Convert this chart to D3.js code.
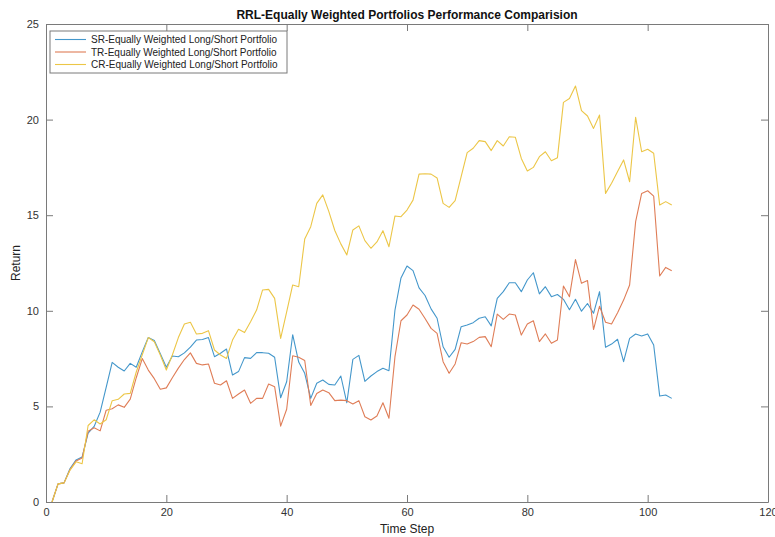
<!DOCTYPE html>
<html>
<head>
<meta charset="utf-8">
<script src="https://cdn.jsdelivr.net/npm/d3@7"></script>
<style>
  html, body { margin: 0; padding: 0; background: #fff; }
  svg { display: block; font-family: "Liberation Sans", Arial, Helvetica, sans-serif; }
</style>
</head>
<body>
<svg id="chart" width="775" height="537"></svg>
<script>
// Cumulative returns of the three equally weighted long/short portfolios, steps 1..104
const srReturns = [
  0, 0.95, 1.0, 1.75, 2.2, 2.35, 3.6, 3.95, 4.7, 6.0,
  7.3, 7.05, 6.85, 7.25, 7.05, 7.85, 8.6, 8.45, 7.75, 7.05,
  7.64, 7.6, 7.8, 8.1, 8.47, 8.5, 8.6, 7.6, 7.78, 8.0,
  6.64, 6.82, 7.55, 7.51, 7.81, 7.81, 7.78, 7.57, 5.45, 6.29,
  8.75, 7.32, 6.73, 5.42, 6.21, 6.38, 6.15, 6.12, 6.59, 5.19,
  7.46, 7.67, 6.31, 6.59, 6.82, 6.99, 6.87, 10.04, 11.72, 12.34,
  12.1, 11.2, 10.8, 10.1, 9.61, 8.12, 7.57, 7.98, 9.17, 9.26,
  9.38, 9.61, 9.69, 9.21, 10.65, 11.0, 11.47, 11.47, 11.0, 11.61,
  11.99, 10.88, 11.26, 10.74, 10.85, 10.6, 10.06, 10.6, 9.98, 10.38,
  9.87, 11.0, 8.09, 8.26, 8.51, 7.34, 8.56, 8.79, 8.68, 8.79,
  8.21, 5.54, 5.6, 5.42
];
const trReturns = [
  0, 0.95, 1.0, 1.7, 2.15, 2.3, 3.7, 3.88, 3.72, 4.8,
  4.88, 5.08, 4.95, 5.38, 6.5, 7.5, 6.9, 6.45, 5.9, 5.97,
  6.5, 7.0, 7.45, 7.8, 7.25, 7.17, 7.22, 6.21, 6.12, 6.34,
  5.42, 5.65, 5.86, 5.16, 5.42, 5.42, 6.17, 6.03, 3.97, 4.85,
  7.65, 7.57, 7.4, 5.05, 5.67, 5.86, 5.72, 5.3, 5.33, 5.3,
  5.13, 5.3, 4.46, 4.29, 4.5, 5.19, 4.38, 7.6, 9.48, 9.78,
  10.3, 10.08, 9.6, 9.08, 8.82, 7.34, 6.73, 7.22, 8.33, 8.26,
  8.39, 8.61, 8.65, 8.12, 9.83, 9.55, 9.83, 9.78, 8.73, 9.31,
  9.48, 8.39, 8.79, 8.3, 8.47, 11.3, 10.74, 12.68, 11.44, 11.58,
  9.02, 10.24, 9.4, 9.31, 9.9, 10.56, 11.35, 14.66, 16.14, 16.28,
  16.0, 11.82, 12.27, 12.1
];
const crReturns = [
  0, 0.95, 1.0, 1.67, 2.1, 2.0, 4.0, 4.3, 4.08, 4.3,
  5.3, 5.37, 5.65, 5.68, 6.8, 7.7, 8.6, 8.38, 7.69, 6.9,
  7.69, 8.6, 9.31, 9.4, 8.79, 8.82, 8.96, 7.95, 7.69, 7.51,
  8.47, 9.03, 8.86, 9.43, 10.04, 11.09, 11.12, 10.65, 8.56, 9.95,
  11.35, 11.26, 13.75, 14.4, 15.62, 16.06, 15.2, 14.2, 13.5, 12.92,
  14.23, 14.44, 13.67, 13.27, 13.6, 14.19, 13.35, 14.96, 14.92, 15.27,
  15.79, 17.15, 17.17, 17.15, 16.95, 15.62, 15.41, 15.76, 17.02, 18.27,
  18.5, 18.9, 18.85, 18.38, 18.9, 18.62, 19.1, 19.08, 17.97, 17.31,
  17.5, 18.06, 18.32, 17.85, 18.0, 20.9, 21.1, 21.76, 20.47, 20.19,
  19.54, 20.24, 16.14, 16.67, 17.28, 17.89, 16.75, 20.12, 18.32, 18.45,
  18.24, 15.53, 15.71, 15.53
];
const seriesNames = [
  "SR-Equally Weighted Long/Short Portfolio",
  "TR-Equally Weighted Long/Short Portfolio",
  "CR-Equally Weighted Long/Short Portfolio"
];
const seriesColors = ["#4497cb", "#df7d57", "#ecc647"];
const xTicks = [0, 20, 40, 60, 80, 100, 120];
const yTicks = [0, 5, 10, 15, 20, 25];
const titleText = "RRL-Equally Weighted Portfolios Performance Comparision";
const xLabel = "Time Step";
const yLabel = "Return";

const svg = d3.select("#chart");
const plotLeft = 46, plotRight = 768, plotTop = 24, plotBottom = 502;
const x = d3.scaleLinear().domain([0, 120]).range([plotLeft, plotRight]);
const y = d3.scaleLinear().domain([0, 25]).range([plotBottom, plotTop]);
const axisColor = "#7a7a7a";
const tickLen = 7;

// white plot background
svg.append("rect").attr("x", plotLeft).attr("y", plotTop)
  .attr("width", plotRight - plotLeft).attr("height", plotBottom - plotTop).attr("fill", "#fff");

// data lines
const allSeries = [srReturns, trReturns, crReturns];
const line = d3.line().x((d, i) => x(i + 1)).y(d => y(d));
const plot = svg.append("g");
allSeries.forEach((vals, k) => {
  plot.append("path").datum(vals)
    .attr("d", line)
    .attr("fill", "none")
    .attr("stroke", seriesColors[k])
    .attr("stroke-width", 1.1)
    .attr("stroke-linejoin", "round");
});

// axes with inward ticks on all four sides
function styleAxis(g) {
  g.select(".domain").attr("stroke", axisColor).attr("stroke-width", 1);
  g.selectAll(".tick line").attr("stroke", axisColor).attr("stroke-width", 1);
  g.selectAll(".tick text").attr("fill", "#333").attr("font-size", 11)
    .attr("font-family", "Liberation Sans, Arial, sans-serif");
}
const xAxis = d3.axisBottom(x).tickValues(xTicks).tickSizeInner(-tickLen).tickSizeOuter(0).tickPadding(6);
svg.append("g").attr("transform", `translate(0,${plotBottom})`).call(xAxis).call(styleAxis);
const xAxisTop = d3.axisTop(x).tickValues(xTicks).tickSizeInner(-tickLen).tickSizeOuter(0).tickFormat("");
svg.append("g").attr("transform", `translate(0,${plotTop})`).call(xAxisTop).call(styleAxis);
const yAxis = d3.axisLeft(y).tickValues(yTicks).tickSizeInner(-tickLen).tickSizeOuter(0).tickPadding(7);
svg.append("g").attr("transform", `translate(${plotLeft},0)`).call(yAxis).call(styleAxis);
const yAxisRight = d3.axisRight(y).tickValues(yTicks).tickSizeInner(-tickLen).tickSizeOuter(0).tickFormat("");
svg.append("g").attr("transform", `translate(${plotRight},0)`).call(yAxisRight).call(styleAxis);

// title and axis labels
svg.append("text").attr("x", (plotLeft + plotRight) / 2).attr("y", 19)
  .attr("text-anchor", "middle").attr("font-size", 12).attr("font-weight", "bold")
  .attr("fill", "#111").text(titleText);
svg.append("text").attr("x", (plotLeft + plotRight) / 2).attr("y", 533)
  .attr("text-anchor", "middle").attr("font-size", 12).attr("fill", "#222").text(xLabel);
svg.append("text").attr("transform", `translate(20,${(plotTop + plotBottom) / 2}) rotate(-90)`)
  .attr("text-anchor", "middle").attr("font-size", 12).attr("fill", "#222").text(yLabel);

// legend
const legend = svg.append("g");
legend.append("rect").attr("x", 50).attr("y", 31).attr("width", 237).attr("height", 42)
  .attr("fill", "#fff").attr("stroke", axisColor).attr("stroke-width", 1);
seriesNames.forEach((name, k) => {
  const ly = 39.5 + k * 12.5;
  legend.append("line").attr("x1", 55).attr("x2", 86).attr("y1", ly).attr("y2", ly)
    .attr("stroke", seriesColors[k]).attr("stroke-width", 1.1);
  legend.append("text").attr("x", 91).attr("y", ly + 3.5)
    .attr("font-size", 10).attr("fill", "#222").text(name);
});
</script>
</body>
</html>
